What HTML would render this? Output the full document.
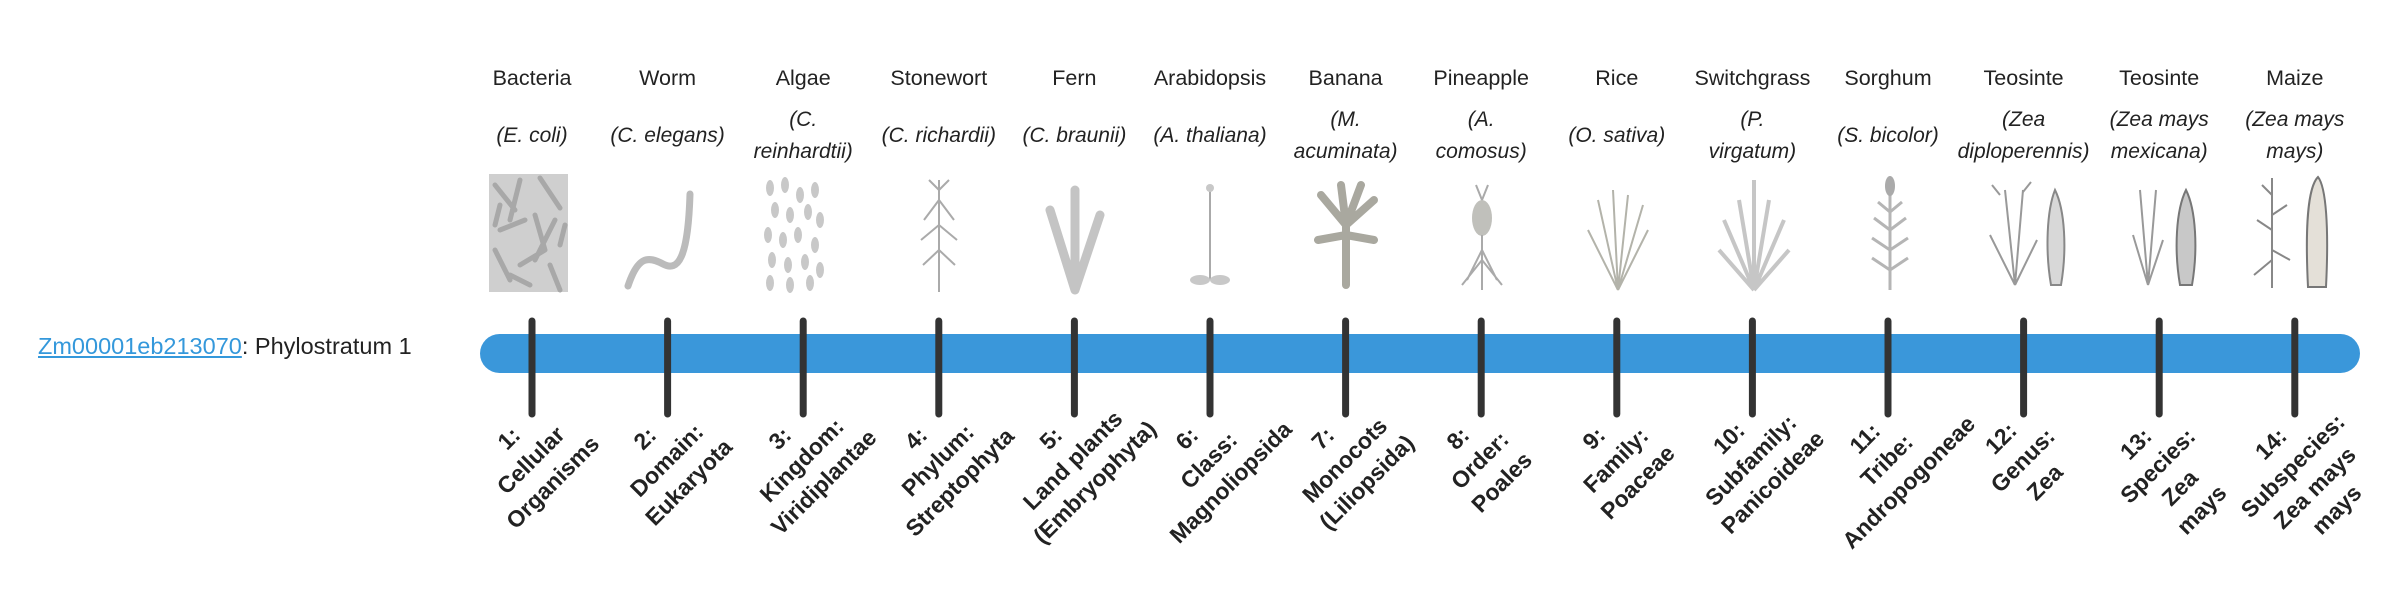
<!DOCTYPE html>
<html><head><meta charset="utf-8"><style>
body{margin:0;width:2400px;height:580px;background:#fff;overflow:hidden;position:relative;font-family:"Liberation Sans",sans-serif;color:#222}
.lab{position:absolute;left:38px;top:333px;font-size:23.5px;white-space:nowrap}
.lab a{color:#3498db;text-decoration:underline}
.h{position:absolute;width:150px;margin-left:-75px;text-align:center;font-size:21.5px;top:66px;color:#222}
.s{position:absolute;width:170px;margin-left:-85px;text-align:center;font-size:21px;font-style:italic;line-height:32px;color:#222}
.b{position:absolute;width:260px;height:0;}
.b div{position:absolute;left:0;width:260px;text-align:center;font-weight:bold;font-size:23px;line-height:31px;transform:rotate(-45deg);transform-origin:50% 50%;white-space:nowrap}
svg{position:absolute;left:0;top:0}
</style></head><body>
<div class="lab"><a>Zm00001eb213070</a>: Phylostratum 1</div>
<svg width="2400" height="580">
<rect x="480" y="334" width="1880" height="39" rx="19.5" fill="#3a97da"/>
<g fill="none" stroke="#aaa" stroke-width="2">
<rect x="489" y="174" width="79" height="118" fill="#cfcfcf" stroke="none"/>
<g stroke="#a8a8a8" stroke-width="5" stroke-linecap="round">
<path d="M495 185l20 25M520 180l-10 40M540 178l20 30M500 230l25-10M535 215l10 35M555 220l-20 40M495 250l15 30M520 265l25-15M550 265l10 25M500 205l-5 20M560 245l5-20M530 285l-20-10"/></g>
<path d="M628 286c10-30 20-30 35-22s25-5 27-70" stroke="#bbb" stroke-width="7" stroke-linecap="round"/>
<g fill="#c8c8c8" stroke="none">
<ellipse cx="770" cy="188" rx="4" ry="8"/><ellipse cx="785" cy="185" rx="4" ry="8"/><ellipse cx="800" cy="195" rx="4" ry="8"/><ellipse cx="815" cy="190" rx="4" ry="8"/>
<ellipse cx="775" cy="210" rx="4" ry="8"/><ellipse cx="790" cy="215" rx="4" ry="8"/><ellipse cx="808" cy="212" rx="4" ry="8"/><ellipse cx="820" cy="220" rx="4" ry="8"/>
<ellipse cx="768" cy="235" rx="4" ry="8"/><ellipse cx="783" cy="240" rx="4" ry="8"/><ellipse cx="798" cy="235" rx="4" ry="8"/><ellipse cx="815" cy="245" rx="4" ry="8"/>
<ellipse cx="772" cy="260" rx="4" ry="8"/><ellipse cx="788" cy="265" rx="4" ry="8"/><ellipse cx="805" cy="262" rx="4" ry="8"/><ellipse cx="820" cy="270" rx="4" ry="8"/>
<ellipse cx="770" cy="283" rx="4" ry="8"/><ellipse cx="790" cy="285" rx="4" ry="8"/><ellipse cx="810" cy="283" rx="4" ry="8"/></g>
<path d="M939 180v112M939 200l-15 20M939 200l15 20M939 225l-18 15M939 225l18 15M939 250l-16 15M939 250l16 15M939 190l-10-10M939 190l10-10"/>
<g stroke="#c4c4c4" stroke-width="9" stroke-linecap="round"><path d="M1075 290l-25-80M1075 290l0-100M1075 290l25-75"/></g>
<path d="M1210 280v-95" /><g fill="#c8c8c8" stroke="none"><ellipse cx="1200" cy="280" rx="10" ry="5"/><ellipse cx="1220" cy="280" rx="10" ry="5"/><circle cx="1210" cy="188" r="4"/></g>
<g stroke="#a9a89f" stroke-width="8" stroke-linecap="round"><path d="M1346 285v-60M1346 225l-25-30M1346 225l-5-40M1346 225l15-40M1346 225l28-25M1346 235l-28 5M1346 235l28 5"/></g>
<ellipse cx="1482" cy="218" rx="10" ry="18" fill="#c0c0bb" stroke="none"/><path d="M1482 290v-55M1482 260l-20 25M1482 260l20 25M1482 250l-15 30M1482 250l15 30M1482 200l-6-15M1482 200l6-15"/>
<path d="M1618 290l-20-90M1618 290l-5-100M1618 290l10-95M1618 290l25-85M1618 290l-30-60M1618 290l30-60" stroke="#b3b3aa"/>
<g stroke="#c6c6c6" stroke-width="4"><path d="M1754 290l-30-70M1754 290l-15-90M1754 290l0-110M1754 290l15-90M1754 290l30-70M1754 290l-35-40M1754 290l35-40"/></g>
<path d="M1890 290v-95M1890 270l-18-12M1890 270l18-12M1890 250l-18-12M1890 250l18-12M1890 230l-16-12M1890 230l16-12M1890 212l-12-10M1890 212l12-10" stroke="#b5b5b5" stroke-width="3"/><ellipse cx="1890" cy="186" rx="5" ry="10" fill="#aaa" stroke="none"/>
<path d="M2015 285l-10-95M2015 285l8-95M2015 285l-25-50M2015 285l22-45M2000 195l-8-10M2023 192l8-10" stroke="#999" stroke-width="2"/>
<path d="M2055 190c-8 20-10 60-4 95h10c6-35 4-75-6-95z" fill="#d8d8d8" stroke="#888"/>
<path d="M2148 285l-8-95M2148 285l8-95M2148 285l-15-50M2148 285l15-45" stroke="#999" stroke-width="2"/>
<path d="M2186 190c-10 20-12 60-6 95h12c6-35 4-75-6-95z" fill="#c8c8c8" stroke="#777"/>
<path d="M2272 288v-110M2272 260l-18 15M2272 250l18 10M2272 230l-15-10M2272 215l15-10M2272 195l-10-10" stroke="#888" stroke-width="2"/>
<path d="M2318 177c-10 10-13 50-10 110h18c3-60 0-100-8-110z" fill="#e4e0d8" stroke="#777"/>
</g>
<g stroke="#333" stroke-width="7" stroke-linecap="round">
<line x1="532" y1="321" x2="532" y2="414"/><line x1="667.6" y1="321" x2="667.6" y2="414"/><line x1="803.2" y1="321" x2="803.2" y2="414"/><line x1="938.8" y1="321" x2="938.8" y2="414"/><line x1="1074.4" y1="321" x2="1074.4" y2="414"/><line x1="1210" y1="321" x2="1210" y2="414"/><line x1="1345.6" y1="321" x2="1345.6" y2="414"/><line x1="1481.2" y1="321" x2="1481.2" y2="414"/><line x1="1616.8" y1="321" x2="1616.8" y2="414"/><line x1="1752.4" y1="321" x2="1752.4" y2="414"/><line x1="1888" y1="321" x2="1888" y2="414"/><line x1="2023.6" y1="321" x2="2023.6" y2="414"/><line x1="2159.2" y1="321" x2="2159.2" y2="414"/><line x1="2294.8" y1="321" x2="2294.8" y2="414"/>
</g>
</svg>

<div class="h" style="left:532px">Bacteria</div><div class="s" style="left:532px;top:120px">(E. coli)</div>
<div class="h" style="left:667.6px">Worm</div><div class="s" style="left:667.6px;top:120px">(C. elegans)</div>
<div class="h" style="left:803.2px">Algae</div><div class="s" style="left:803.2px;top:104px">(C.<br>reinhardtii)</div>
<div class="h" style="left:938.8px">Stonewort</div><div class="s" style="left:938.8px;top:120px">(C. richardii)</div>
<div class="h" style="left:1074.4px">Fern</div><div class="s" style="left:1074.4px;top:120px">(C. braunii)</div>
<div class="h" style="left:1210px">Arabidopsis</div><div class="s" style="left:1210px;top:120px">(A. thaliana)</div>
<div class="h" style="left:1345.6px">Banana</div><div class="s" style="left:1345.6px;top:104px">(M.<br>acuminata)</div>
<div class="h" style="left:1481.2px">Pineapple</div><div class="s" style="left:1481.2px;top:104px">(A.<br>comosus)</div>
<div class="h" style="left:1616.8px">Rice</div><div class="s" style="left:1616.8px;top:120px">(O. sativa)</div>
<div class="h" style="left:1752.4px">Switchgrass</div><div class="s" style="left:1752.4px;top:104px">(P.<br>virgatum)</div>
<div class="h" style="left:1888px">Sorghum</div><div class="s" style="left:1888px;top:120px">(S. bicolor)</div>
<div class="h" style="left:2023.6px">Teosinte</div><div class="s" style="left:2023.6px;top:104px">(Zea<br>diploperennis)</div>
<div class="h" style="left:2159.2px">Teosinte</div><div class="s" style="left:2159.2px;top:104px">(Zea mays<br>mexicana)</div>
<div class="h" style="left:2294.8px">Maize</div><div class="s" style="left:2294.8px;top:104px">(Zea mays<br>mays)</div>

<div class="b" style="left:401px;top:414px"><div>1:<br>Cellular<br>Organisms</div></div>
<div class="b" style="left:536.6px;top:414px"><div>2:<br>Domain:<br>Eukaryota</div></div>
<div class="b" style="left:672.2px;top:414px"><div>3:<br>Kingdom:<br>Viridiplantae</div></div>
<div class="b" style="left:807.8px;top:414px"><div>4:<br>Phylum:<br>Streptophyta</div></div>
<div class="b" style="left:943.4px;top:414px"><div>5:<br>Land plants<br>(Embryophyta)</div></div>
<div class="b" style="left:1079px;top:414px"><div>6:<br>Class:<br>Magnoliopsida</div></div>
<div class="b" style="left:1214.6px;top:414px"><div>7:<br>Monocots<br>(Liliopsida)</div></div>
<div class="b" style="left:1350.2px;top:414px"><div>8:<br>Order:<br>Poales</div></div>
<div class="b" style="left:1485.8px;top:414px"><div>9:<br>Family:<br>Poaceae</div></div>
<div class="b" style="left:1621.4px;top:414px"><div>10:<br>Subfamily:<br>Panicoideae</div></div>
<div class="b" style="left:1757px;top:414px"><div>11:<br>Tribe:<br>Andropogoneae</div></div>
<div class="b" style="left:1892.6px;top:414px"><div>12:<br>Genus:<br>Zea</div></div>
<div class="b" style="left:2038.7px;top:415px"><div>13:<br>Species:<br>Zea<br>mays</div></div>
<div class="b" style="left:2174.3px;top:415px"><div>14:<br>Subspecies:<br>Zea mays<br>mays</div></div>
</body></html>
